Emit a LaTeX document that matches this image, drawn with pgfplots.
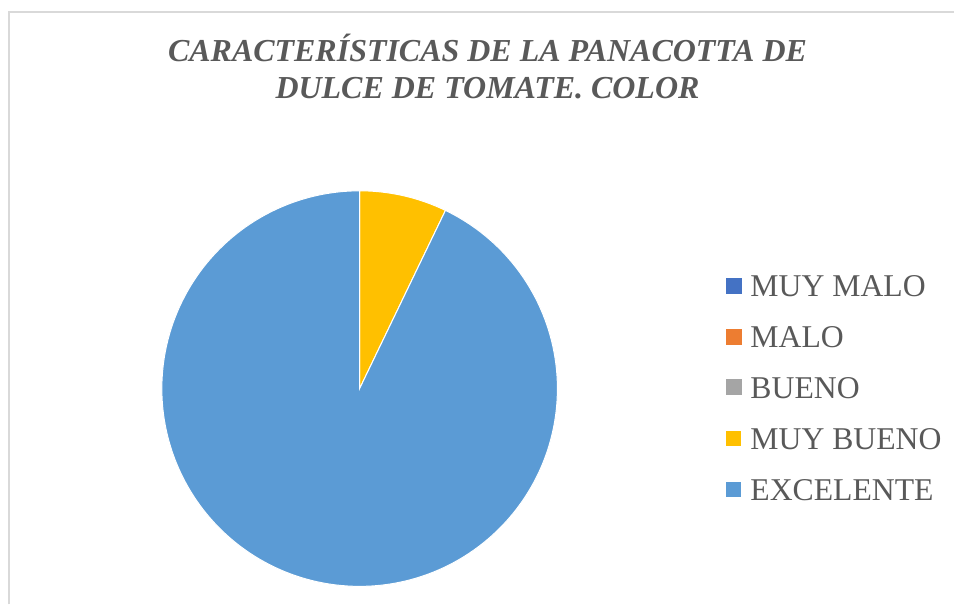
\documentclass[border=0pt]{standalone}
\usepackage{fontspec}
\setmainfont{Liberation Serif}
\usepackage{pgfplots}
\usepackage{pgfplotstable}
\pgfplotsset{compat=1.18}
\definecolor{cMM}{HTML}{4472C4}
\definecolor{cMA}{HTML}{ED7D31}
\definecolor{cBU}{HTML}{A5A5A5}
\definecolor{cMB}{HTML}{FFC000}
\definecolor{cEX}{HTML}{5B9BD5}
\definecolor{txt}{HTML}{595959}
\definecolor{frame}{HTML}{D9D9D9}
\pgfplotstableread{
categoria value
MUY_MALO 0
MALO 0
BUENO 0
MUY_BUENO 1
EXCELENTE 13
}\datatable
\begin{document}
\begin{tikzpicture}
% canvas 955 x 605 px, 1px = 0.75pt, y upward: Y = 605 - py
\path (0pt,0pt) rectangle (716.25pt,453.75pt);
\draw[frame, line width=1.5pt] (6.75pt,0pt) -- (6.75pt,444.75pt) -- (716.25pt,444.75pt);
\node[anchor=base, text=txt, font=\fontsize{24pt}{26pt}\selectfont\bfseries\itshape] at (366pt,407.25pt) {CARACTERÍSTICAS DE LA PANACOTTA DE};
\node[anchor=base, text=txt, font=\fontsize{24pt}{26pt}\selectfont\bfseries\itshape] at (366pt,379.5pt) {DULCE DE TOMATE. COLOR};
\pgfplotstablegetelem{3}{value}\of\datatable \let\vMB\pgfplotsretval
\pgfplotstablegetelem{4}{value}\of\datatable \let\vEX\pgfplotsretval
\pgfmathsetmacro{\tot}{\vMB+\vEX}
\pgfmathsetmacro{\aA}{90}
\pgfmathsetmacro{\aB}{90-360*\vMB/\tot}
\pgfmathsetmacro{\aC}{\aB-360*\vEX/\tot}
\begin{axis}[
  at={(270pt,162pt)}, anchor=center,
  scale only axis, width=297pt, height=297pt,
  xmin=-1, xmax=1, ymin=-1, ymax=1,
  hide axis, clip=false,
  legend style={
    at={(axis description cs:1.4242,0.7897)}, anchor=north west,
    draw=none, fill=none, inner sep=0pt, row sep=21.25pt,
    font=\fontsize{23.8pt}{25pt}\selectfont, text=txt,
    nodes={inner sep=0pt, text height=17pt, text depth=0pt},
    /tikz/every odd column/.append style={column sep=6pt},
  },
  legend cell align=left,
  legend image code/.code={\fill[#1] (0pt,-6pt) rectangle (12pt,6pt);},
]
\addlegendimage{fill=cMM, draw=none}
\addlegendentry{MUY MALO}
\addlegendimage{fill=cMA, draw=none}
\addlegendentry{MALO}
\addlegendimage{fill=cBU, draw=none}
\addlegendentry{BUENO}
\addplot[fill=cMB, draw=white, line width=0.75pt, domain=\aB:\aA, samples=40] ({cos(x)},{sin(x)}) -- (axis cs:0,0) -- cycle;
\addlegendentry{MUY BUENO}
\addplot[fill=cEX, draw=white, line width=0.75pt, domain=\aC:\aB, samples=200] ({cos(x)},{sin(x)}) -- (axis cs:0,0) -- cycle;
\addlegendentry{EXCELENTE}
\end{axis}
\end{tikzpicture}
\end{document}
